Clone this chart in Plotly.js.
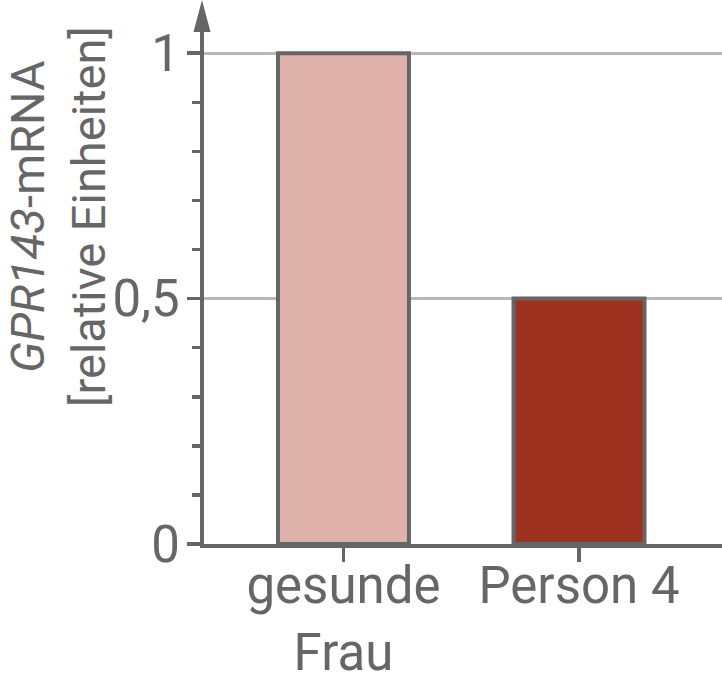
<!DOCTYPE html>
<html>
<head>
<meta charset="utf-8">
<script src="https://cdn.plot.ly/plotly-3.0.1.min.js"></script>
<style>
  html, body { margin: 0; padding: 0; background: #fff; }
  #chart { width: 722px; height: 682px; }
</style>
</head>
<body>
<div id="chart"></div>
<script>
'use strict';

// data
const categories = ['gesunde<br>Frau', 'Person 4'];
const values = [1.0, 0.5];
const barColors = ['#dfb1ab', '#9e3220'];
const yTickVals = [0, 0.5, 1];
const yTickText = ['0', '0,5', '1'];

const INK = '#666666';
const FONT = { family: 'Roboto, "Open Sans", sans-serif', size: 51, color: INK };

const trace = {
    type: 'bar',
    x: categories,
    y: values,
    width: 0.556,
    marker: { color: barColors, line: { color: INK, width: 4 } },
    hoverinfo: 'skip',
};

const layout = {
    width: 722, height: 682,
    margin: { l: 204, r: 0, t: 9, b: 138 },
    paper_bgcolor: '#fff', plot_bgcolor: '#fff',
    font: FONT,
    showlegend: false,
    separators: ',.',
    xaxis: {
        type: 'category',
        range: [-0.592, 1.607],
        showline: true, linecolor: INK, linewidth: 4,
        ticks: 'outside', ticklen: 14, tickwidth: 3.5, tickcolor: INK,
        showgrid: false, zeroline: false,
        tickfont: FONT,
        ticklabelstandoff: -20,
    },
    yaxis: {
        range: [0, 1.09],
        showline: true, linecolor: INK, linewidth: 4,
        tickmode: 'array', tickvals: yTickVals, ticktext: yTickText,
        ticks: 'outside', ticklen: 13, tickwidth: 3.5, tickcolor: INK,
        showgrid: true, gridcolor: '#b8b8b8', gridwidth: 3,
        zeroline: false,
        tickfont: FONT,
        ticklabelstandoff: -3,
        minor: { dtick: 0.1, ticks: 'outside', ticklen: 8, tickwidth: 3.5, tickcolor: INK, showgrid: false },
    },
    shapes: [{
        // arrow head on top of the y axis
        type: 'path', xref: 'paper', yref: 'paper',
        xsizemode: 'pixel', ysizemode: 'pixel', xanchor: 0, yanchor: 1,
        path: 'M -10.5,-23 L -2,9 L 6.5,-23 Z',
        fillcolor: INK, line: { width: 0 },
    }],
    annotations: [{
        xref: 'paper', yref: 'paper', x: -0.282, y: 0.613,
        xanchor: 'center', yanchor: 'middle',
        textangle: -90, showarrow: false,
        text: '<i>GPR143</i>-mRNA<br>[relative Einheiten]',
        font: { family: FONT.family, size: 47, color: INK },
    }],
};

Plotly.newPlot('chart', [trace], layout, { displayModeBar: false, staticPlot: true });
</script>
</body>
</html>
